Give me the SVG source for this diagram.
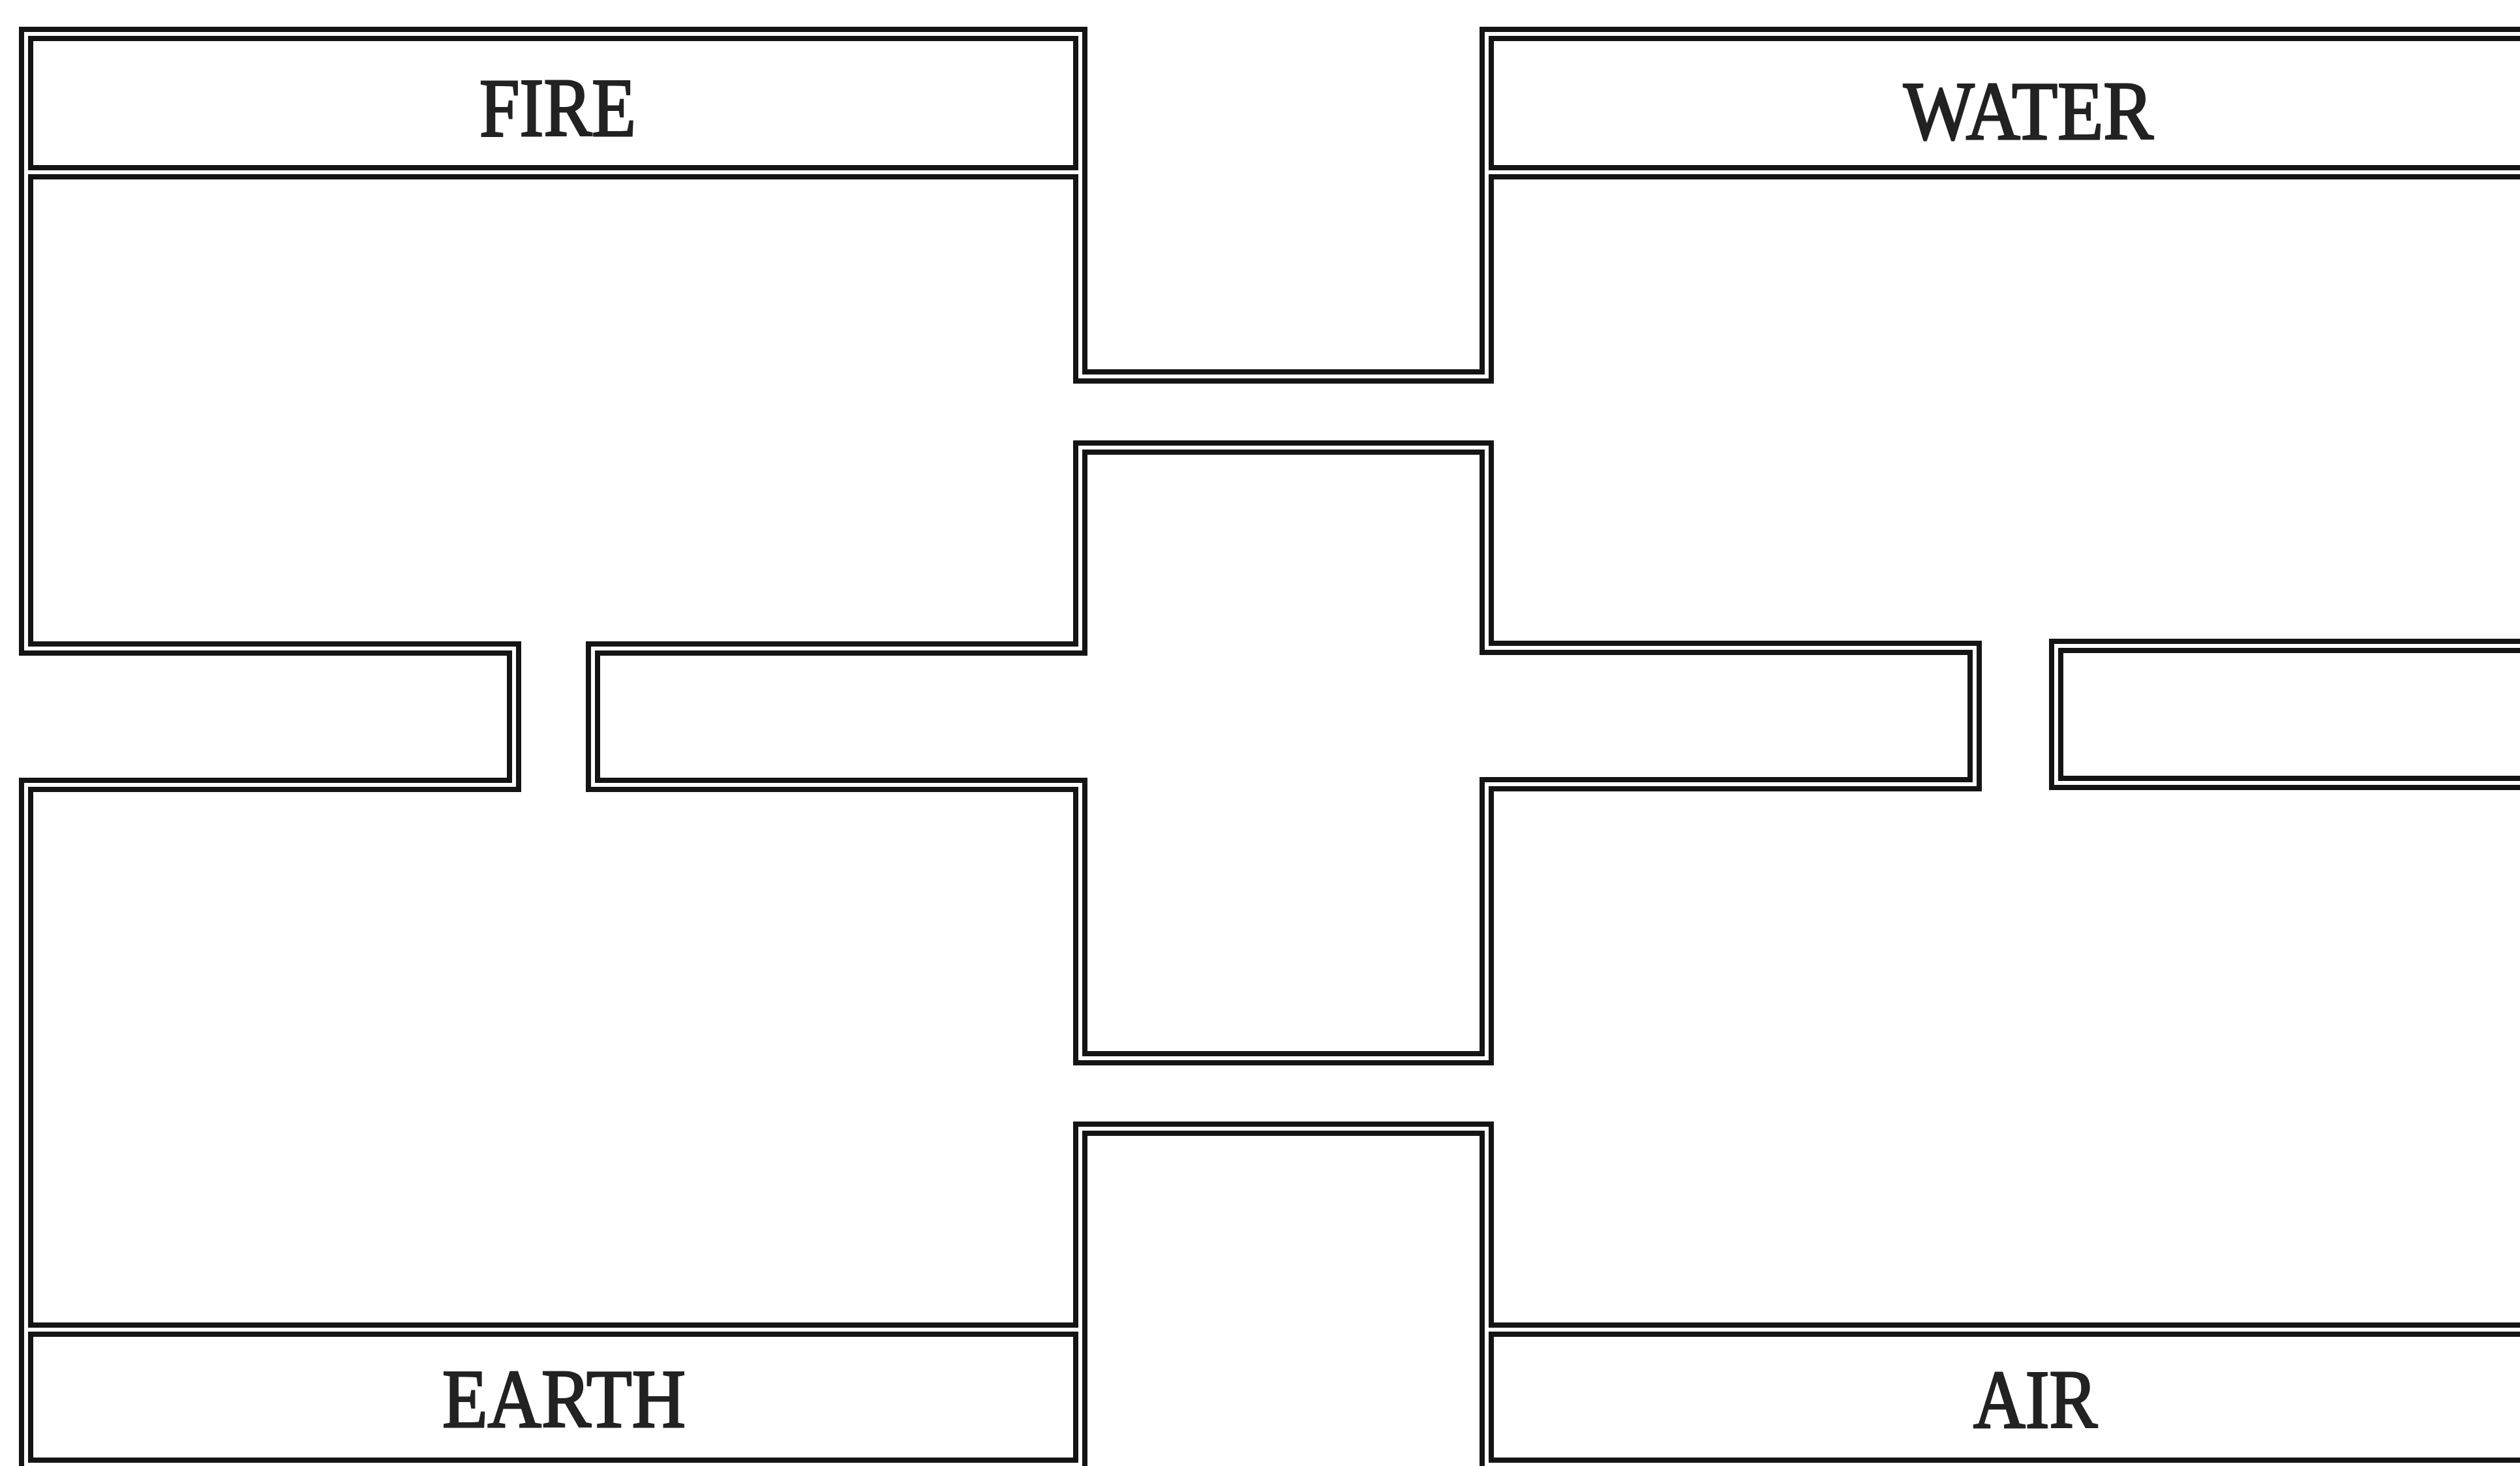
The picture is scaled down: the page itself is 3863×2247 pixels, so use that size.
<svg xmlns="http://www.w3.org/2000/svg" xmlns:xlink="http://www.w3.org/1999/xlink" width="3863" height="2247" viewBox="0 0 3863 2247">
<style>
.ink{fill:none;stroke:#141414;stroke-width:22;stroke-linejoin:miter;stroke-linecap:butt}
.gap{fill:none;stroke:#ffffff;stroke-width:6;stroke-linejoin:miter;stroke-linecap:butt}
.lbl{font-family:"Liberation Serif","DejaVu Serif",serif;font-size:126px;fill:#222222;stroke:#222222;stroke-width:3}
</style>
<defs>
<path id="outer" d="M3890,2245 H2279 V1730 H1656 V2245 H40 V1203 H788 V994 H40 V52 H1656 V577 H2279 V52 H3890"/>
<path id="cross" d="M909,994 H1656 V686 H2279 V993 H3027 V1202 H2279 V1622 H1656 V1203 H909 Z"/>
<path id="rbar" d="M3890,990 H3152 V1200 H3890"/>
<path id="dividers" d="M40,264 H1656 M2279,264 H3890 M40,2038 H1656 M2279,2038 H3890"/>
</defs>
<rect width="3863" height="2247" fill="#ffffff"/>
<g id="walls">
<use xlink:href="#outer" class="ink"/>
<use xlink:href="#cross" class="ink"/>
<use xlink:href="#rbar" class="ink"/>
<use xlink:href="#dividers" class="ink"/>
<use xlink:href="#outer" class="gap"/>
<use xlink:href="#cross" class="gap"/>
<use xlink:href="#rbar" class="gap"/>
<use xlink:href="#dividers" class="gap"/>
</g>
<g id="fire">
<text class="lbl" x="735" y="208" textLength="240" lengthAdjust="spacingAndGlyphs">FIRE</text>
</g>
<g id="water">
<text class="lbl" x="2918" y="213" textLength="383" lengthAdjust="spacingAndGlyphs">WATER</text>
</g>
<g id="earth">
<text class="lbl" x="678" y="2187" textLength="373" lengthAdjust="spacingAndGlyphs">EARTH</text>
</g>
<g id="air">
<text class="lbl" x="3025" y="2188" textLength="190" lengthAdjust="spacingAndGlyphs">AIR</text>
</g>
</svg>
